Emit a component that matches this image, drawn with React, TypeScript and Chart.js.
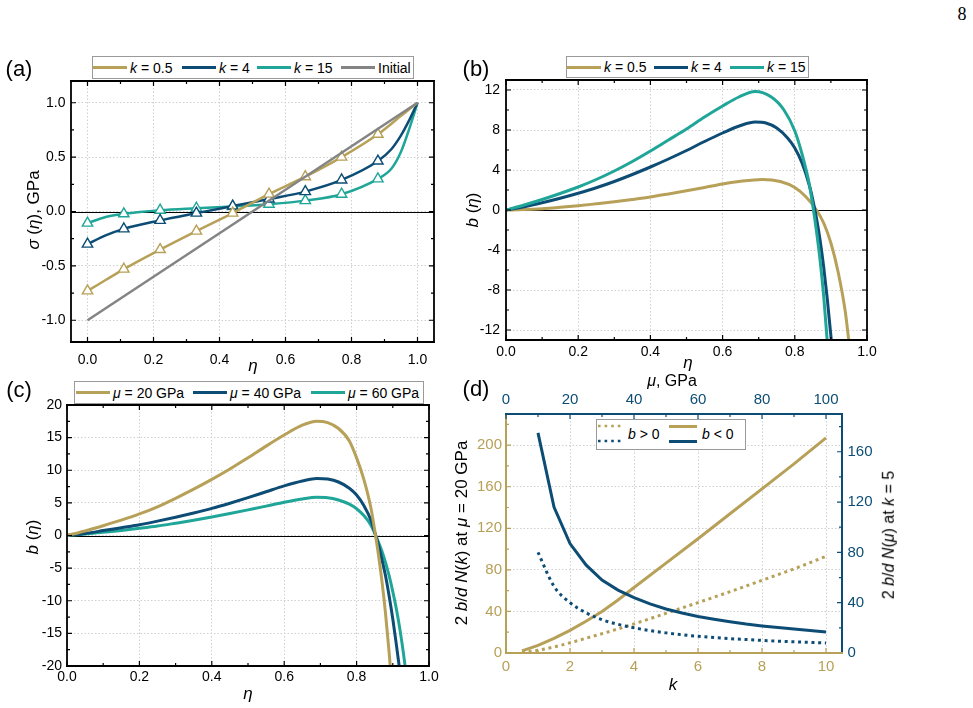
import React, { useEffect, useRef } from 'react';
import { Chart, registerables } from 'chart.js';

Chart.register(...registerables);

const GOLD = '#B7A058';
const NAVY = '#0D4D75';
const TEAL = '#1FA698';
const GRAY = '#848484';
const SANS = '"Liberation Sans", Arial, Helvetica, sans-serif';
const SERIF = '"Liberation Serif", "Times New Roman", serif';

// ---- (a) stress profiles sigma(eta)
const etaA = [0, 0.055, 0.11, 0.22, 0.33, 0.44, 0.55, 0.66, 0.77, 0.88, 0.92, 0.95, 0.975, 1.0];
const markerEtaA = [0, 0.11, 0.22, 0.33, 0.44, 0.55, 0.66, 0.77, 0.88];
const sigmaK05 = [-0.73, -0.63, -0.53, -0.35, -0.18, -0.015, 0.16, 0.32, 0.5, 0.71, 0.805, 0.88, 0.94, 1.0];
const sigmaK4 = [-0.3, -0.22, -0.16, -0.082, -0.015, 0.05, 0.115, 0.183, 0.29, 0.464, 0.57, 0.7, 0.84, 1.0];
const sigmaK15 = [-0.107, -0.05, -0.021, 0.012, 0.03, 0.046, 0.067, 0.1, 0.159, 0.3, 0.39, 0.55, 0.76, 1.0];
const etaInitial = [0, 1];
const sigmaInitial = [-1, 1];

// ---- (b) b(eta) for several k
const etaBK15 = [0, 0.05, 0.1, 0.15, 0.2, 0.25, 0.3, 0.35, 0.4, 0.45, 0.5, 0.55, 0.6, 0.645, 0.69, 0.735, 0.77, 0.8, 0.82, 0.84, 0.85, 0.86, 0.87, 0.88, 0.89];
const bK15 = [0, 0.5, 1.05, 1.65, 2.3, 3.05, 3.9, 4.85, 5.9, 7.0, 8.1, 9.3, 10.4, 11.3, 11.85, 11.3, 10.0, 7.9, 5.6, 2.6, 0.4, -2.1, -5.0, -8.6, -13.2];
const etaBK4 = [0, 0.05, 0.1, 0.15, 0.2, 0.25, 0.3, 0.35, 0.4, 0.45, 0.5, 0.55, 0.6, 0.65, 0.69, 0.72, 0.75, 0.78, 0.8, 0.82, 0.84, 0.85, 0.86, 0.87, 0.88, 0.89, 0.9, 0.905];
const bK4 = [0, 0.32, 0.72, 1.17, 1.67, 2.22, 2.85, 3.55, 4.3, 5.1, 5.95, 6.85, 7.7, 8.45, 8.8, 8.7, 8.2, 7.2, 6.2, 4.7, 2.5, 1.0, -0.8, -3.0, -5.7, -8.9, -12.6, -14.7];
const etaBK05 = [0, 0.05, 0.1, 0.15, 0.2, 0.25, 0.3, 0.35, 0.4, 0.45, 0.5, 0.55, 0.6, 0.65, 0.71, 0.76, 0.8, 0.83, 0.86, 0.88, 0.9, 0.92, 0.94, 0.95];
const bK05 = [0, 0.04, 0.13, 0.27, 0.43, 0.62, 0.82, 1.05, 1.3, 1.6, 1.92, 2.25, 2.6, 2.88, 3.06, 2.85, 2.25, 1.35, 0.0, -1.3, -3.3, -6.2, -10.2, -13.2];

// ---- (c) b(eta) for several mu
const etaCMu20 = [0, 0.05, 0.1, 0.15, 0.2, 0.25, 0.3, 0.35, 0.4, 0.45, 0.5, 0.55, 0.6, 0.65, 0.69, 0.72, 0.75, 0.78, 0.8, 0.82, 0.84, 0.85, 0.86, 0.87, 0.88, 0.89, 0.895];
const bMu20 = [0, 0.7, 1.5, 2.35, 3.3, 4.4, 5.7, 7.1, 8.6, 10.2, 11.9, 13.7, 15.4, 16.9, 17.5, 17.3, 16.4, 14.5, 11.9, 8.6, 4.1, 0.8, -2.8, -7.0, -12.0, -18.0, -21.5];
const etaCMu40 = [0, 0.05, 0.1, 0.15, 0.2, 0.25, 0.3, 0.35, 0.4, 0.45, 0.5, 0.55, 0.6, 0.65, 0.69, 0.72, 0.75, 0.78, 0.8, 0.82, 0.84, 0.85, 0.86, 0.87, 0.88, 0.89, 0.9, 0.91, 0.92];
const bMu40 = [0, 0.32, 0.75, 1.2, 1.65, 2.2, 2.8, 3.45, 4.15, 4.95, 5.8, 6.7, 7.6, 8.35, 8.75, 8.65, 8.2, 7.25, 6.2, 4.6, 2.3, 0.5, -1.4, -3.7, -6.2, -9.3, -12.8, -16.8, -21.0];
const etaCMu60 = [0, 0.05, 0.1, 0.15, 0.2, 0.25, 0.3, 0.35, 0.4, 0.45, 0.5, 0.55, 0.6, 0.65, 0.69, 0.72, 0.75, 0.78, 0.8, 0.82, 0.84, 0.85, 0.86, 0.87, 0.88, 0.89, 0.9, 0.91, 0.92, 0.93, 0.935];
const bMu60 = [0, 0.22, 0.5, 0.78, 1.1, 1.45, 1.88, 2.33, 2.83, 3.37, 3.93, 4.5, 5.1, 5.6, 5.85, 5.8, 5.45, 4.8, 4.1, 3.05, 1.55, 0.35, -0.95, -2.4, -4.15, -6.2, -8.6, -11.3, -14.5, -18.3, -20.5];

// ---- (d) 2b/d N(k) at mu = 20 GPa (bottom/left axes)
const kD = [0.5, 1, 1.5, 2, 2.5, 3, 3.5, 4, 5, 6, 7, 8, 9, 10];
const nkNeg = [2, 7.4, 14, 21.8, 30.5, 40, 51, 63, 86.5, 110, 134, 158, 182, 207];
const nkPos = [0.5, 2.6, 5.8, 9.8, 14.2, 18.6, 23.2, 28, 38.2, 48.5, 59, 70, 81, 93];
// ---- (d) 2b/d N(mu) at k = 5 (top/right axes)
const muD = [10, 15, 20, 25, 30, 35, 40, 45, 50, 55, 60, 65, 70, 75, 80, 85, 90, 95, 100];
const nmuNeg = [175, 116, 87, 70, 58, 50, 44, 39, 35, 31.8, 29, 26.8, 24.8, 23, 21.5, 20.2, 19, 17.8, 16.7];
const nmuPos = [80, 53, 40, 32, 26.5, 22.8, 20, 17.8, 16, 14.5, 13.3, 12.3, 11.4, 10.7, 10, 9.4, 8.9, 8.4, 8.0];

type Pt = { x: number; y: number };
const pts = (xs: number[], ys: number[]): Pt[] => xs.map((x, i) => ({ x, y: ys[i] }));

function curve(xs: number[], ys: number[], color: string, extra: any = {}) {
  return {
    data: pts(xs, ys),
    borderColor: color,
    backgroundColor: color,
    borderWidth: 3,
    pointRadius: 0,
    cubicInterpolationMode: 'monotone',
    fill: false,
    ...extra,
  };
}

function markedCurve(xs: number[], ys: number[], color: string) {
  return curve(xs, ys, color, {
    borderWidth: 2.5,
    pointStyle: 'triangle',
    pointRadius: (ctx: any) => (markerEtaA.includes(xs[ctx.dataIndex]) ? 6 : 0),
    pointBackgroundColor: '#ffffff',
    pointBorderColor: color,
    pointBorderWidth: 1.4,
  });
}

type Pos = 'left' | 'right' | 'top' | 'bottom';

function axis(o: {
  position: Pos;
  min: number;
  max: number;
  step: number;
  digits: number;
  pad: number;
  size: number;
  fontSize?: number;
  color?: string;
  grid?: boolean;
}) {
  const horizontal = o.position === 'top' || o.position === 'bottom';
  return {
    type: 'linear',
    position: o.position,
    min: o.min,
    max: o.max,
    ticks: {
      stepSize: o.step,
      includeBounds: false,
      padding: o.pad,
      color: o.color ?? '#000',
      autoSkip: false,
      maxRotation: 0,
      font: { family: SANS, size: o.fontSize ?? 14 },
      callback: (v: any) => Number(v).toFixed(o.digits),
    },
    grid: { display: o.grid ?? true, drawTicks: false, color: '#cfcfcf', lineWidth: 1 },
    border: { display: false, dash: [1.5, 2] },
    afterFit: (scale: any) => {
      if (horizontal) scale.height = o.size;
      else scale.width = o.size;
    },
  };
}

type Side = { scale: string; side: Pos; color: string };

// Draws the boxed frame, inward major/minor ticks and the zero reference line.
const framePlugin = {
  id: 'frame',
  beforeDatasetsDraw(chart: any, _args: any, opts: any) {
    if (!opts.zeroLine) return;
    const { ctx, chartArea: a } = chart;
    const y = Math.round(chart.scales.y.getPixelForValue(0)) + 0.5;
    ctx.save();
    ctx.strokeStyle = '#000';
    ctx.lineWidth = 1.2;
    ctx.beginPath();
    ctx.moveTo(a.left, y);
    ctx.lineTo(a.right, y);
    ctx.stroke();
    ctx.restore();
  },
  afterDatasetsDraw(chart: any, _args: any, opts: any) {
    const { ctx, chartArea: a } = chart;
    const fw = opts.frameWidth ?? 1.8;
    ctx.save();
    (opts.sides as Side[]).forEach((s) => {
      const scale = chart.scales[s.scale];
      const values: number[] = scale.ticks.map((t: any) => t.value);
      const step = values[1] - values[0];
      const marks: [number, number][] = values.map((v) => [v, opts.major ?? 5] as [number, number]);
      for (let v = values[0] - step / 2; v <= scale.max + 1e-9; v += step) {
        if (v >= scale.min - 1e-9) marks.push([v, opts.minor ?? 3]);
      }
      ctx.strokeStyle = s.color;
      ctx.lineWidth = 1.2;
      ctx.beginPath();
      marks.forEach(([v, len]) => {
        const p = scale.getPixelForValue(v);
        if (s.side === 'left') { ctx.moveTo(a.left, p); ctx.lineTo(a.left + len, p); }
        if (s.side === 'right') { ctx.moveTo(a.right, p); ctx.lineTo(a.right - len, p); }
        if (s.side === 'top') { ctx.moveTo(p, a.top); ctx.lineTo(p, a.top + len); }
        if (s.side === 'bottom') { ctx.moveTo(p, a.bottom); ctx.lineTo(p, a.bottom - len); }
      });
      ctx.stroke();
      ctx.lineWidth = fw;
      ctx.beginPath();
      if (s.side === 'left') { ctx.moveTo(a.left, a.top - fw / 2); ctx.lineTo(a.left, a.bottom + fw / 2); }
      if (s.side === 'right') { ctx.moveTo(a.right, a.top - fw / 2); ctx.lineTo(a.right, a.bottom + fw / 2); }
      if (s.side === 'top') { ctx.moveTo(a.left - fw / 2, a.top); ctx.lineTo(a.right + fw / 2, a.top); }
      if (s.side === 'bottom') { ctx.moveTo(a.left - fw / 2, a.bottom); ctx.lineTo(a.right + fw / 2, a.bottom); }
      ctx.stroke();
    });
    ctx.restore();
  },
};

const blackSides: Side[] = [
  { scale: 'y', side: 'left', color: '#000' },
  { scale: 'y', side: 'right', color: '#000' },
  { scale: 'x', side: 'bottom', color: '#000' },
  { scale: 'x', side: 'top', color: '#000' },
];

function baseOptions(scales: any, padding: any, frame: any) {
  return {
    responsive: false,
    animation: false,
    events: [],
    layout: { padding },
    plugins: { legend: { display: false }, tooltip: { enabled: false }, frame },
    scales,
  };
}

const configA = () => ({
  type: 'line',
  data: {
    datasets: [
      curve(etaInitial, sigmaInitial, GRAY, { borderWidth: 2.5, cubicInterpolationMode: 'default', tension: 0 }),
      markedCurve(etaA, sigmaK05, GOLD),
      markedCurve(etaA, sigmaK4, NAVY),
      markedCurve(etaA, sigmaK15, TEAL),
    ],
  },
  options: baseOptions(
    {
      x: axis({ position: 'bottom', min: -0.05, max: 1.05, step: 0.2, digits: 1, pad: 9.5, size: 38 }),
      y: axis({ position: 'left', min: -1.2, max: 1.2, step: 0.5, digits: 1, pad: 5.5, size: 71 }),
    },
    { top: 21, right: 11, left: 0, bottom: 0 },
    { sides: blackSides, zeroLine: true },
  ),
  plugins: [framePlugin],
});

const configB = () => ({
  type: 'line',
  data: {
    datasets: [
      curve(etaBK15, bK15, TEAL),
      curve(etaBK4, bK4, NAVY),
      curve(etaBK05, bK05, GOLD),
    ],
  },
  options: baseOptions(
    {
      x: axis({ position: 'bottom', min: 0, max: 1, step: 0.2, digits: 1, pad: 3.5, size: 30 }),
      y: axis({ position: 'left', min: -13, max: 13, step: 4, digits: 0, pad: 6, size: 56 }),
    },
    { top: 20, right: 23, left: 0, bottom: 0 },
    { sides: blackSides, zeroLine: true },
  ),
  plugins: [framePlugin],
});

const configC = () => ({
  type: 'line',
  data: {
    datasets: [
      curve(etaCMu20, bMu20, GOLD),
      curve(etaCMu40, bMu40, NAVY),
      curve(etaCMu60, bMu60, TEAL),
    ],
  },
  options: baseOptions(
    {
      x: axis({ position: 'bottom', min: 0, max: 1, step: 0.2, digits: 1, pad: 2.5, size: 24 }),
      y: axis({ position: 'left', min: -20, max: 20, step: 5, digits: 0, pad: 5, size: 67 }),
    },
    { top: 20, right: 16, left: 0, bottom: 0 },
    { sides: blackSides, zeroLine: true },
  ),
  plugins: [framePlugin],
});

const dotted = { borderDash: [3, 3.7], borderCapStyle: 'butt' };

const configD = () => ({
  type: 'line',
  data: {
    datasets: [
      curve(muD, nmuNeg, NAVY, { xAxisID: 'xT', yAxisID: 'yR', cubicInterpolationMode: 'default', tension: 0 }),
      curve(muD, nmuPos, NAVY, { xAxisID: 'xT', yAxisID: 'yR', ...dotted }),
      curve(kD, nkNeg, GOLD, { xAxisID: 'x', yAxisID: 'y', cubicInterpolationMode: 'default', tension: 0 }),
      curve(kD, nkPos, GOLD, { xAxisID: 'x', yAxisID: 'y', ...dotted }),
    ],
  },
  options: baseOptions(
    {
      x: axis({ position: 'bottom', min: 0, max: 10.5, step: 2, digits: 0, pad: 4.5, size: 37, fontSize: 15, color: GOLD }),
      xT: axis({ position: 'top', min: 0, max: 105, step: 20, digits: 0, pad: 5, size: 29, fontSize: 15, color: NAVY, grid: false }),
      y: axis({ position: 'left', min: 0, max: 230, step: 40, digits: 0, pad: 4, size: 56, fontSize: 15, color: GOLD }),
      yR: axis({ position: 'right', min: 0, max: 190, step: 40, digits: 0, pad: 5.5, size: 48, fontSize: 15, color: NAVY, grid: false }),
    },
    { top: 0, right: 0, left: 0, bottom: 0 },
    {
      sides: [
        { scale: 'y', side: 'left', color: GOLD },
        { scale: 'yR', side: 'right', color: NAVY },
        { scale: 'x', side: 'bottom', color: GOLD },
        { scale: 'xT', side: 'top', color: NAVY },
      ],
      zeroLine: false,
      frameWidth: 2,
    },
  ),
  plugins: [framePlugin],
});

function ChartCanvas({ left, top, width, height, make }: { left: number; top: number; width: number; height: number; make: () => any }) {
  const ref = useRef<HTMLCanvasElement>(null);
  useEffect(() => {
    const chart = new Chart(ref.current as HTMLCanvasElement, make());
    return () => chart.destroy();
  }, []);
  return (
    <canvas
      ref={ref}
      width={width}
      height={height}
      style={{ position: 'absolute', left, top, width, height }}
    />
  );
}

function Label({ x, y, size = 16, rotate = 0, color = '#000', family = SANS, children }: any) {
  return (
    <div
      style={{
        position: 'absolute',
        left: x,
        top: y,
        transform: `translate(-50%, -50%) rotate(${rotate}deg)`,
        fontFamily: family,
        fontSize: size,
        color,
        whiteSpace: 'nowrap',
        lineHeight: 1.15,
        zIndex: 2,
      }}
    >
      {children}
    </div>
  );
}

type LegendItem = { color: string; sx: number; label: React.ReactNode };

function LegendBox({ left, top, width, height, items }: { left: number; top: number; width: number; height: number; items: LegendItem[] }) {
  const sw = 34;
  return (
    <div
      style={{
        position: 'absolute',
        left,
        top,
        width,
        height,
        border: '1px solid #9a9a9a',
        background: '#fff',
        boxSizing: 'border-box',
        zIndex: 3,
      }}
    >
      {items.map((it, i) => (
        <React.Fragment key={i}>
          <div style={{ position: 'absolute', left: it.sx - left - 1, top: (height - 2) / 2 - 1.5, width: sw, height: 3, background: it.color }} />
          <div
            style={{
              position: 'absolute',
              left: it.sx - left - 1 + sw + 3,
              top: 0,
              height: height - 2,
              display: 'flex',
              alignItems: 'center',
              fontFamily: SANS,
              fontSize: 14,
              whiteSpace: 'nowrap',
            }}
          >
            {it.label}
          </div>
        </React.Fragment>
      ))}
    </div>
  );
}

function DotSwatch({ color }: { color: string }) {
  return (
    <svg width={26} height={4} style={{ display: 'block' }}>
      <line x1={1} y1={2} x2={26} y2={2} stroke={color} strokeWidth={2.6} strokeDasharray="2.6 4" />
    </svg>
  );
}

function LegendD() {
  const left = 596;
  const top = 419;
  return (
    <div
      style={{
        position: 'absolute',
        left,
        top,
        width: 150,
        height: 31,
        border: '1px solid #9a9a9a',
        background: '#fff',
        boxSizing: 'border-box',
        zIndex: 3,
        fontFamily: SANS,
        fontSize: 14,
      }}
    >
      <div style={{ position: 'absolute', left: 0, top: 4 }}><DotSwatch color={GOLD} /></div>
      <div style={{ position: 'absolute', left: 0, top: 19 }}><DotSwatch color={NAVY} /></div>
      <div style={{ position: 'absolute', left: 31, top: 6, whiteSpace: 'nowrap' }}><i>b</i> &gt; 0</div>
      <div style={{ position: 'absolute', left: 72, top: 5, width: 28, height: 3, background: GOLD }} />
      <div style={{ position: 'absolute', left: 72, top: 20, width: 28, height: 3, background: NAVY }} />
      <div style={{ position: 'absolute', left: 105, top: 6, whiteSpace: 'nowrap' }}><i>b</i> &lt; 0</div>
    </div>
  );
}

export default function App() {
  return (
    <div style={{ position: 'absolute', left: 0, top: 0, width: 973, height: 708, background: '#fff', overflow: 'hidden' }}>
      <ChartCanvas left={0} top={60} width={445} height={320} make={configA} />
      <ChartCanvas left={450} top={60} width={440} height={310} make={configB} />
      <ChartCanvas left={0} top={385} width={445} height={305} make={configC} />
      <ChartCanvas left={450} top={385} width={440} height={305} make={configD} />

      <Label x={962} y={14} size={18} family={SERIF}>8</Label>

      <Label x={19} y={69} size={22}>(a)</Label>
      <Label x={476} y={69} size={22}>(b)</Label>
      <Label x={19} y={390} size={22}>(c)</Label>
      <Label x={476} y={389} size={22}>(d)</Label>

      <LegendBox
        left={92}
        top={56}
        width={322}
        height={23}
        items={[
          { color: GOLD, sx: 93, label: <span><i>k</i> = 0.5</span> },
          { color: NAVY, sx: 182, label: <span><i>k</i> = 4</span> },
          { color: TEAL, sx: 257, label: <span><i>k</i> = 15</span> },
          { color: GRAY, sx: 341, label: <span>Initial</span> },
        ]}
      />
      <LegendBox
        left={566}
        top={56}
        width={243}
        height={22}
        items={[
          { color: GOLD, sx: 567, label: <span><i>k</i> = 0.5</span> },
          { color: NAVY, sx: 654, label: <span><i>k</i> = 4</span> },
          { color: TEAL, sx: 730, label: <span><i>k</i> = 15</span> },
        ]}
      />
      <LegendBox
        left={74}
        top={381}
        width={350}
        height={23}
        items={[
          { color: GOLD, sx: 76, label: <span><i>μ</i> = 20 GPa</span> },
          { color: NAVY, sx: 193, label: <span><i>μ</i> = 40 GPa</span> },
          { color: TEAL, sx: 311, label: <span><i>μ</i> = 60 GPa</span> },
        ]}
      />
      <LegendD />

      <Label x={34} y={210} size={17} rotate={-90}><i>σ</i> (<i>η</i>), GPa</Label>
      <Label x={253} y={366} size={17}><i>η</i></Label>

      <Label x={473} y={210} size={17} rotate={-90}><i>b</i> (<i>η</i>)</Label>
      <Label x={688} y={363} size={17}><i>η</i></Label>

      <Label x={33} y={537} size={17} rotate={-90}><i>b</i> (<i>η</i>)</Label>
      <Label x={248} y={694} size={17}><i>η</i></Label>

      <Label x={672} y={381} size={16}><i>μ</i>, GPa</Label>
      <Label x={673} y={685} size={17}><i>k</i></Label>
      <Label x={462} y={533} size={17} rotate={-90}>2 <i>b</i>/<i>d</i> <i>N</i>(<i>k</i>) at <i>μ</i> = 20 GPa</Label>
      <Label x={889} y={535} size={16} rotate={-90}>2 <i>b</i>/<i>d</i> <i>N</i>(<i>μ</i>) at <i>k</i> = 5</Label>
    </div>
  );
}
